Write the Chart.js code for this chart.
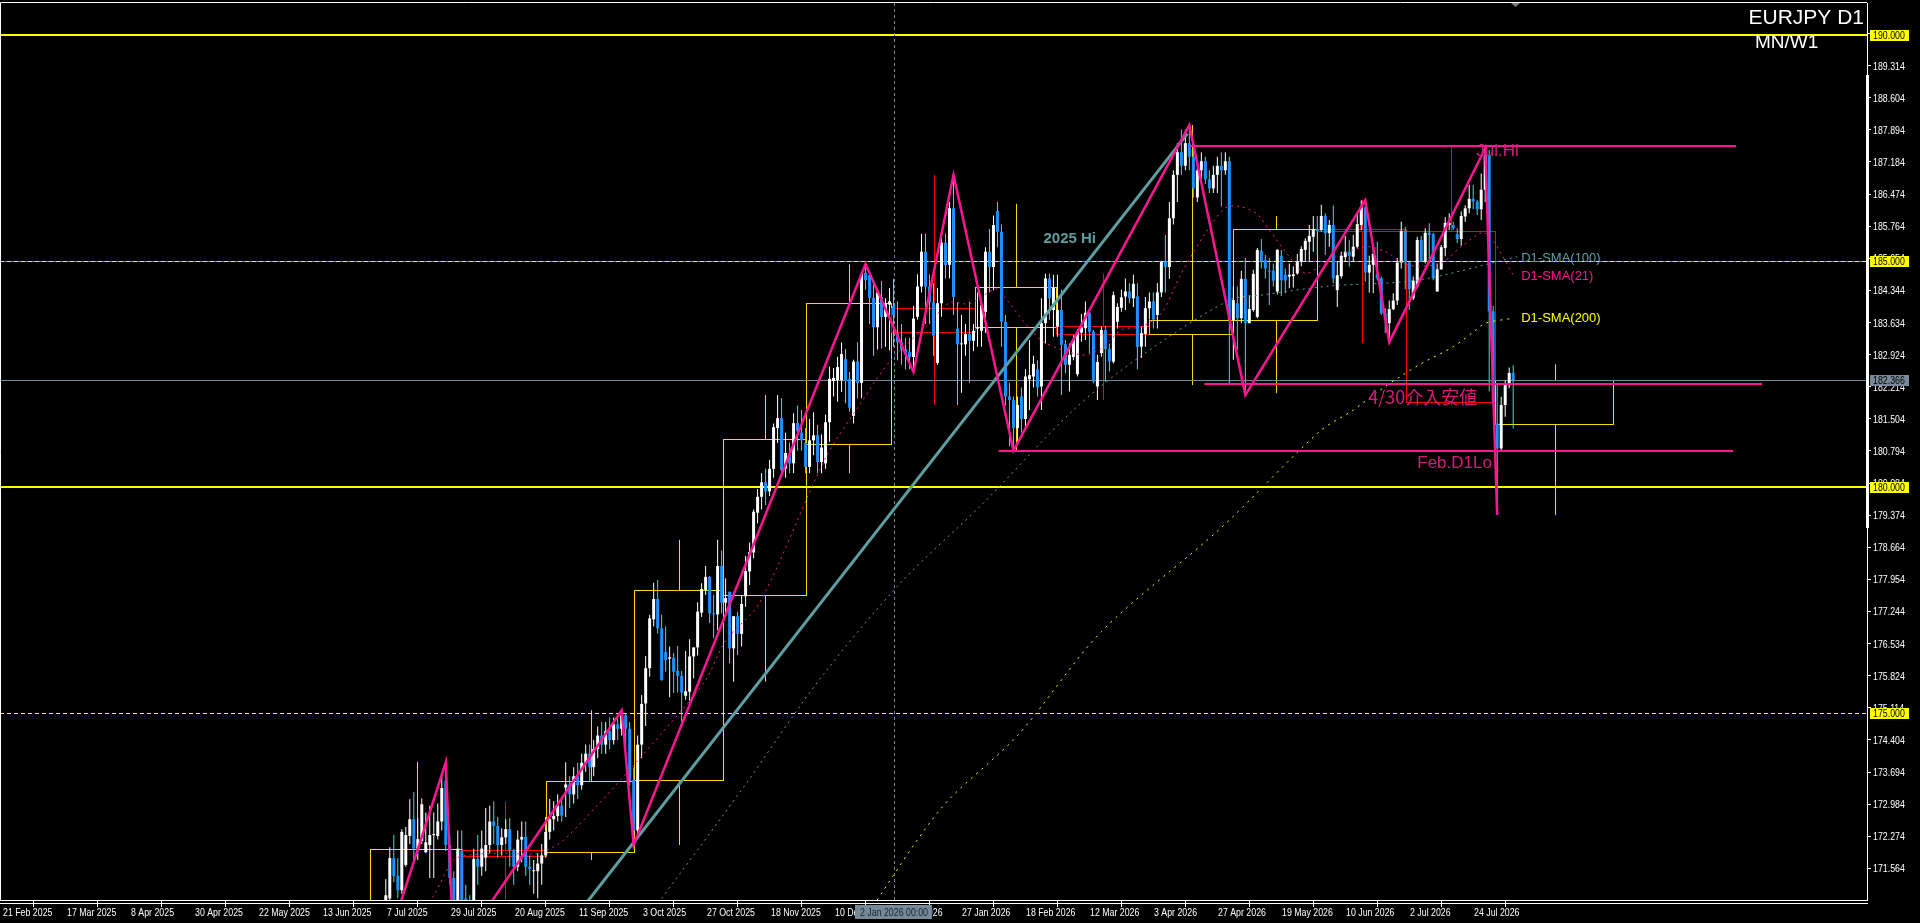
<!DOCTYPE html>
<html>
<head>
<meta charset="utf-8">
<script src="https://cdn.jsdelivr.net/npm/chart.js@4.4.0/dist/chart.umd.min.js"></script>
<style>
html, body { margin: 0; padding: 0; background: #000; overflow: hidden; }
</style>
</head>
<body>
<canvas id="chart" width="1920" height="923"></canvas>
<script>
// daily bars, index 0 = 21 Feb 2025, first candle drawn = bar 96 (7 Jul 2025)
const FIRST_BAR = 96;
const TOTAL_BARS = 467;

const opens = [
170.86,170.90,171.79,171.40,171.08,171.64,172.28,172.65,172.00,172.17,171.92,172.08,172.30,172.28,172.60,173.50,172.08,171.35,170.86,171.95,
170.90,170.80,170.86,171.77,171.60,171.80,172.08,172.60,172.50,172.08,172.25,172.43,171.97,171.60,172.20,172.26,171.60,171.50,171.50,171.67,
171.85,172.37,172.65,172.72,172.95,173.35,173.42,173.20,173.60,173.40,173.90,174.10,173.80,174.20,174.50,174.30,174.60,174.40,174.75,174.65,
174.95,174.65,173.52,172.40,174.30,175.21,175.99,177.07,177.52,176.87,176.35,176.20,176.22,175.93,175.82,175.38,175.47,176.25,176.45,177.22,
177.72,178.01,177.20,177.18,178.25,177.44,177.68,176.43,177.14,176.75,177.58,178.13,178.55,179.43,179.78,180.10,179.90,180.40,181.30,181.52,
180.40,180.72,180.52,181.41,181.20,180.97,180.44,181.03,181.14,180.55,180.52,181.43,182.34,182.36,182.36,182.83,182.39,181.57,182.77,182.30,
184.73,184.68,184.18,183.53,184.20,183.76,184.03,184.00,183.40,183.20,183.05,182.98,182.87,183.76,184.43,185.20,184.43,184.08,182.74,184.06,
185.40,184.91,186.16,183.50,183.15,183.15,183.38,183.23,183.50,183.45,183.87,185.20,184.86,186.10,185.64,183.65,182.00,181.92,181.30,182.00,
181.50,182.38,182.44,182.60,182.22,183.62,184.61,183.91,183.54,183.91,183.16,182.70,182.87,182.49,183.41,183.51,183.85,183.43,182.22,182.96,
183.47,183.05,182.77,183.65,183.96,184.21,184.32,184.17,184.21,183.10,183.38,183.95,184.10,183.80,184.30,184.98,184.86,185.94,186.90,187.40,
187.10,187.60,187.30,186.40,187.00,187.20,186.80,186.60,186.90,187.10,187.00,187.20,183.69,184.06,183.73,184.60,183.62,183.91,183.76,185.22,
185.02,184.78,184.78,184.32,185.11,184.69,184.65,184.66,184.72,184.98,185.24,185.42,185.53,185.70,185.68,185.99,185.61,185.79,184.35,184.66,
185.08,185.20,185.09,185.31,185.79,186.18,184.74,184.91,184.71,184.61,183.84,183.62,183.93,184.12,184.96,185.66,184.96,184.17,184.43,185.46,
184.98,185.62,185.59,184.32,184.81,185.28,185.79,185.79,185.59,185.48,185.98,186.16,186.37,186.31,186.14,186.57,187.34,183.88,181.40,180.85,
181.81,182.25,182.52
];
const highs = [
171.33,172.03,172.30,171.79,172.43,172.48,173.09,173.25,172.67,173.11,172.80,172.95,172.80,173.00,173.60,173.91,172.30,171.50,172.40,172.40,
171.20,170.97,172.00,172.30,172.40,172.90,172.95,173.04,172.70,172.45,172.65,172.67,172.00,172.40,172.60,172.60,171.85,171.75,171.90,172.10,
172.70,173.10,173.05,173.20,173.15,173.91,173.60,173.80,173.90,174.10,174.30,174.30,174.40,174.70,174.80,174.80,174.90,174.90,174.95,175.06,
175.00,174.80,173.80,174.50,175.40,176.26,177.17,177.88,177.94,177.17,176.92,176.47,176.33,176.48,175.93,176.37,176.63,176.45,177.45,177.87,
178.25,178.03,177.61,178.83,178.59,177.98,177.68,177.14,177.24,177.61,178.47,178.77,179.50,179.95,180.30,180.40,180.60,181.40,182.03,181.96,
181.20,180.98,181.63,181.80,181.70,181.30,181.50,181.65,181.37,181.16,181.60,182.66,182.63,182.88,183.20,183.05,182.54,182.81,183.20,184.75,
184.93,184.73,184.55,184.35,184.55,184.17,184.40,184.60,184.10,183.60,183.30,183.30,184.00,184.70,185.60,185.60,184.70,184.50,184.40,185.60,
185.60,186.30,186.90,184.09,183.80,183.60,184.10,183.60,184.30,184.05,185.30,185.70,186.00,186.30,185.80,183.80,182.30,182.00,182.00,182.20,
182.60,183.25,182.90,182.80,184.17,184.72,184.71,184.69,184.69,184.36,183.25,183.17,183.35,183.49,183.82,184.10,183.87,183.47,182.92,183.55,
183.55,183.17,184.32,184.06,184.36,184.61,184.50,184.69,184.50,183.54,184.20,184.30,184.30,184.50,185.00,185.57,186.30,187.00,187.60,187.90,
187.90,188.00,187.50,187.20,187.40,187.30,187.00,187.10,187.30,187.40,187.40,187.30,184.43,184.43,184.78,185.06,184.24,184.80,185.28,185.48,
185.13,185.06,184.94,185.26,185.24,184.83,184.94,184.88,185.15,185.32,185.50,185.79,185.99,185.99,186.24,186.05,185.90,186.23,184.98,185.20,
185.55,185.46,185.57,186.05,186.34,186.34,185.11,185.35,185.42,184.65,183.95,184.12,184.28,185.06,185.86,185.75,184.98,184.65,185.53,185.55,
185.72,185.83,185.62,184.94,185.35,185.96,186.05,185.86,185.72,186.09,186.23,186.68,186.68,186.34,186.93,187.49,187.45,184.00,182.25,181.99,
182.36,182.64,182.69
];
const lows = [
170.80,170.06,171.26,170.90,171.00,171.60,172.10,171.75,171.75,172.10,171.90,171.35,171.35,172.20,172.40,171.95,171.20,169.60,170.60,170.60,
170.60,170.50,170.70,171.20,171.40,171.50,171.90,172.10,171.80,171.85,172.10,171.60,171.20,171.50,171.70,171.40,171.20,171.00,170.90,171.20,
171.80,172.20,172.40,172.60,172.60,172.70,172.90,173.00,173.10,173.30,173.70,173.50,173.60,174.00,174.10,174.10,174.20,174.30,174.40,174.50,
174.30,173.40,172.08,172.30,174.00,174.71,175.80,176.91,176.76,175.71,175.91,175.35,175.44,175.45,174.81,175.29,175.27,175.77,176.27,177.12,
177.61,176.99,176.65,176.83,177.20,177.20,176.10,175.69,176.28,176.47,177.35,177.83,178.42,179.19,179.50,179.60,179.80,180.20,180.97,180.20,
180.20,180.30,180.30,180.80,180.80,180.30,180.30,180.70,180.30,180.30,180.40,181.00,182.00,181.88,182.10,181.85,181.66,181.40,181.96,181.96,
184.36,183.60,182.90,183.04,183.06,183.10,183.02,183.10,182.80,182.70,182.60,182.60,182.54,183.70,184.30,183.60,183.60,182.90,182.70,183.76,
184.61,184.61,183.80,181.81,182.08,182.90,182.30,183.00,183.10,183.10,183.40,184.30,184.35,185.30,183.10,181.80,180.90,180.80,181.00,181.20,
181.30,181.70,182.20,182.00,181.70,183.17,183.69,183.32,183.32,182.03,182.51,182.11,182.80,182.44,183.21,183.25,182.96,182.29,181.92,182.88,
182.33,182.55,182.73,183.50,183.87,183.91,184.06,183.98,182.60,182.85,183.10,183.70,183.50,183.50,184.20,184.30,184.60,185.80,186.30,186.90,
187.00,187.00,186.40,186.30,186.80,186.70,186.50,186.50,186.50,186.20,186.90,182.25,182.81,183.03,183.62,182.03,183.62,183.87,183.73,184.83,
184.61,184.02,184.43,184.26,184.22,184.28,184.39,184.41,184.69,184.88,184.98,184.98,185.20,185.13,185.64,185.13,185.31,184.50,183.98,184.61,
184.98,184.87,184.98,185.28,185.68,184.54,184.30,184.28,184.57,183.80,183.40,183.20,183.91,184.02,184.83,184.37,183.91,184.13,184.39,184.98,
184.94,185.02,184.57,184.32,184.80,185.10,185.68,185.68,185.39,185.33,185.86,186.05,186.14,186.01,185.90,186.30,182.11,181.80,179.38,180.78,
181.55,182.18,181.29
];
const closes = [
170.97,171.79,171.39,171.08,172.37,172.30,172.65,172.00,172.21,172.98,172.14,172.30,172.31,172.60,173.34,172.08,171.35,170.86,172.00,170.86,
170.80,170.70,171.77,171.60,172.00,172.08,172.60,172.50,172.08,172.25,172.43,171.97,171.60,172.20,172.26,171.60,171.55,171.52,171.67,171.85,
172.37,172.65,172.72,172.95,172.73,173.42,173.20,173.60,173.40,173.90,174.10,173.80,174.20,174.50,174.30,174.60,174.40,174.75,174.65,174.95,
174.65,173.50,172.40,174.30,175.20,175.99,177.09,177.52,176.87,175.73,176.17,176.23,175.91,175.82,175.45,175.48,176.25,176.45,177.24,177.74,
178.01,177.20,177.18,178.25,177.44,177.54,176.43,177.14,176.75,177.41,178.14,178.56,179.45,179.78,180.10,179.90,180.40,181.32,181.52,180.37,
180.75,180.52,181.41,181.23,181.03,180.44,181.03,181.14,180.55,180.87,181.43,182.39,182.41,182.65,182.94,182.34,181.75,182.77,182.30,184.71,
184.57,184.18,183.53,184.30,183.76,184.05,184.10,183.80,183.20,183.05,182.95,182.87,183.72,184.43,185.20,184.43,184.08,183.34,184.06,185.40,
184.90,186.16,184.20,183.15,183.17,183.38,183.23,183.45,183.50,184.02,185.20,184.86,185.79,185.64,183.65,182.00,181.92,181.30,181.81,181.50,
182.44,182.47,182.72,182.20,183.62,184.61,184.17,184.40,183.91,183.14,182.70,182.92,183.26,183.43,183.53,183.85,183.43,182.33,182.76,183.47,
183.05,182.77,184.24,183.98,184.19,184.32,184.17,184.49,183.09,183.40,183.95,184.10,183.70,184.30,184.98,184.86,185.94,186.90,187.40,187.10,
187.60,187.30,186.60,187.00,187.20,186.80,186.60,186.90,187.10,187.00,187.20,183.69,184.13,183.73,184.60,183.62,183.93,184.71,185.24,184.98,
184.83,184.76,184.56,185.24,184.57,184.56,184.69,184.70,184.98,185.26,185.44,185.55,185.70,185.66,185.99,185.61,185.79,184.61,184.68,185.11,
185.20,185.11,185.31,185.81,186.18,184.74,184.91,185.15,184.61,183.84,183.69,183.93,184.12,184.96,185.66,184.96,184.37,184.56,185.46,184.98,
185.62,185.57,184.61,184.81,185.30,185.84,185.84,185.72,185.48,185.99,186.16,186.37,186.31,186.14,186.57,187.34,183.88,181.88,180.85,181.81,
182.25,182.52,182.36
];

// x axis labels, one every 16 bars from bar 0
const dateTicks = ['21 Feb 2025','17 Mar 2025','8 Apr 2025','30 Apr 2025','22 May 2025','13 Jun 2025',
  '7 Jul 2025','29 Jul 2025','20 Aug 2025','11 Sep 2025','3 Oct 2025','27 Oct 2025','18 Nov 2025',
  '10 Dec 2025','5 Jan 2026','27 Jan 2026','18 Feb 2026','12 Mar 2026','3 Apr 2026','27 Apr 2026',
  '19 May 2026','10 Jun 2026','2 Jul 2026','24 Jul 2026'];
const priceTicks = [171.564,172.274,172.984,173.694,174.404,175.114,175.824,176.534,177.244,177.954,
  178.664,179.374,180.084,180.794,181.504,182.214,182.924,183.634,184.344,185.054,185.764,186.474,
  187.184,187.894,188.604,189.314,190.024];

// monthly (MN) candles drawn as boxes
const monthEdges = [92,115,136,158,180.3,201,222.4,243.5,263.7,286.8,308,329,351.2,373.4,403];
const monthOpen  = [170.00,171.97,171.93,173.52,177.60,180.94,183.95,183.53,183.56,183.38,183.69,185.70,185.66,181.40];
const monthClose = [172.00,171.83,173.50,177.72,181.06,184.06,183.42,184.42,183.38,183.69,185.70,185.66,181.88,182.366];
const monthHigh  = [173.92,173.04,175.06,178.83,182.03,184.92,186.90,186.26,184.71,188.00,185.99,186.34,187.52,182.71];
const monthLow   = [169.50,170.30,171.75,172.08,175.69,180.30,181.81,180.80,181.92,182.25,182.07,183.18,181.80,179.38];

// zigzag
const zigBars   = [97,111,113,155,158,216,228,238,253,297,311,341,347,371,374];
const zigPrices = [170.06,173.91,169.60,175.06,172.08,184.93,182.54,186.90,180.80,188.00,182.03,186.34,183.20,187.49,179.38];

// moving averages
const sma21Bars = [104,108,113,117,125,134,141,166.5,176,181,189.5,206,214.5,222.4,232,237,242,248.7,251,257,261,270,274.5,280,285,290,295,301,306,309.5,313.7,317,322,326,329.5,332,341,346,352,360,365,371,378];
const sma21Vals = [170.50,170.97,171.75,171.86,171.90,171.90,172.23,174.70,175.73,176.60,177.44,180.64,181.81,182.81,183.62,184.07,184.05,184.38,184.17,183.50,183.18,182.92,183.03,183.47,183.54,183.84,184.72,185.61,186.17,186.20,186.05,185.68,185.09,184.72,184.87,185.02,185.31,185.20,184.90,184.95,185.31,185.61,184.69];
const sma100Bars = [165,185,205,225,245,268,284.5,307,315,332,354,379];
const sma100Vals = [170.90,173.30,175.80,177.90,179.60,181.70,182.87,184.13,184.24,184.44,184.57,185.09];
const sma200Bars = [215,235,254,275,305,329.5,338,346,354.5,363,368.7,371,378];
const sma200Vals = [170.35,172.90,174.50,176.80,179.10,181.22,181.70,182.22,182.70,183.10,183.47,183.62,183.73];

// trend line
const trendBars = [140,296.5];
const trendPrices = [170.10,187.81];

// horizontal levels
const levelSolid = [190.0, 180.0];
const levelDashed = [185.0, 175.0];
const currentPrice = 182.366;
const markStart = [297, 300.75, 249.3];
const markEnd   = [433.75, 440.25, 433];
const markPrice = [187.53, 182.28, 180.80];
const markText  = ['Jul.Hi', '4/30介入安値', 'Feb.D1Lo'];
const markTextBar = [368.75, 341.75, 354];
const markTextPrice = [187.43, 181.99, 180.53];
const smaText = ['D1-SMA(100)', 'D1-SMA(21)', 'D1-SMA(200)'];
const smaTextPrice = [185.06, 184.65, 183.72];

const Y_MIN = 170.864, Y_MAX = 190.70;
const AXIS_FONT = "11px 'Liberation Sans', sans-serif";
const SQUEEZE = 0.8;   // axis text is narrower than any installed font

const isBull = k => closes[k] >= opens[k];
const wickData = opens.map((_, k) => ({ x: FIRST_BAR + k, y: [lows[k], highs[k]] }));
const bodyData = opens.map((_, k) => ({ x: FIRST_BAR + k, y: [opens[k], closes[k]] }));
const pts = (bs, vs) => bs.map((b, i) => ({ x: b, y: vs[i] }));

const narrowText = (ctx, txt, x, y) => {
  ctx.save();
  ctx.translate(x, y);
  ctx.scale(SQUEEZE, 1);
  ctx.fillText(txt, 0, 0);
  ctx.restore();
};

const overlay = {
  id: 'overlay',
  beforeDatasetsDraw(chart) {
    const { ctx, chartArea: a, scales: { x, y } } = chart;
    const px = v => x.getPixelForValue(v), py = v => y.getPixelForValue(v);
    ctx.save();
    ctx.beginPath();
    ctx.rect(a.left, a.top, a.right - a.left, a.bottom - a.top);
    ctx.clip();

    // monthly boxes
    ctx.lineWidth = 1;
    for (let m = 0; m < monthOpen.length; m++) {
      ctx.strokeStyle = monthClose[m] >= monthOpen[m] ? '#FFD700' : '#FF0000';
      const x0 = Math.round(px(monthEdges[m])) + 0.5, x1 = Math.round(px(monthEdges[m + 1])) + 0.5;
      const t = Math.round(py(Math.max(monthOpen[m], monthClose[m]))) + 0.5;
      const b = Math.round(py(Math.min(monthOpen[m], monthClose[m]))) + 0.5;
      ctx.strokeRect(x0, t, x1 - x0, Math.max(b - t, 1));
      const xm = Math.round((x0 + x1) / 2) + 0.5;
      ctx.beginPath();
      ctx.moveTo(xm, py(monthHigh[m])); ctx.lineTo(xm, t);
      ctx.moveTo(xm, b); ctx.lineTo(xm, py(monthLow[m]));
      ctx.stroke();
    }

    // level lines
    ctx.strokeStyle = '#FFFF00';
    ctx.lineWidth = 2;
    levelSolid.forEach(p => {
      const yy = Math.round(py(p));
      ctx.beginPath(); ctx.moveTo(a.left, yy); ctx.lineTo(a.right, yy); ctx.stroke();
    });
    ctx.lineWidth = 1;
    levelDashed.forEach((p, i) => {
      const yy = Math.round(py(p)) + 0.5;
      if (i === 0) {
        ctx.strokeStyle = '#5F8F96';
        ctx.setLineDash([]);
        ctx.beginPath(); ctx.moveTo(a.left, yy); ctx.lineTo(a.right, yy); ctx.stroke();
      }
      ctx.strokeStyle = '#FFFF00';
      ctx.setLineDash([4, 3]);
      ctx.beginPath(); ctx.moveTo(a.left, yy); ctx.lineTo(a.right, yy); ctx.stroke();
    });
    ctx.setLineDash([]);
    ctx.strokeStyle = '#778899';
    const yc = Math.round(py(currentPrice)) + 0.5;
    ctx.beginPath(); ctx.moveTo(a.left, yc); ctx.lineTo(a.right, yc); ctx.stroke();

    // vertical crosshair at bar 223
    ctx.setLineDash([3, 3]);
    const xv = Math.round(px(223)) + 0.5;
    ctx.beginPath(); ctx.moveTo(xv, a.top); ctx.lineTo(xv, a.bottom); ctx.stroke();
    ctx.setLineDash([]);
    ctx.restore();
  },
  afterDatasetsDraw(chart) {
    const { ctx, chartArea: a, scales: { x, y } } = chart;
    const px = v => x.getPixelForValue(v), py = v => y.getPixelForValue(v);
    ctx.save();
    ctx.beginPath();
    ctx.rect(a.left, a.top, a.right - a.left, a.bottom - a.top);
    ctx.clip();
    ctx.strokeStyle = '#FF1493';
    ctx.lineWidth = 2;
    markPrice.forEach((p, i) => {
      const yy = Math.round(py(p));
      ctx.beginPath(); ctx.moveTo(px(markStart[i]), yy); ctx.lineTo(px(markEnd[i]), yy); ctx.stroke();
    });
    ctx.textBaseline = 'middle';
    ctx.fillStyle = '#D81B7A';
    markText.forEach((t, i) => {
      ctx.font = i === 1 ? "18px 'Noto Sans CJK JP', sans-serif" : "17px 'Liberation Sans', sans-serif";
      ctx.fillText(t, px(markTextBar[i]), py(markTextPrice[i]));
    });
    ctx.font = "13px 'Liberation Sans', sans-serif";
    const smaCols = ['#5F9EA0', '#FF1493', '#FFFF00'];
    smaText.forEach((t, i) => {
      ctx.fillStyle = smaCols[i];
      ctx.fillText(t, px(380), py(smaTextPrice[i]));
    });
    ctx.font = "bold 15px 'Liberation Sans', sans-serif";
    ctx.fillStyle = '#5F9EA0';
    ctx.fillText('2025 Hi', px(260.5), py(185.48));
    ctx.restore();
  },
  afterDraw(chart) {
    const { ctx, chartArea: a, scales: { x, y } } = chart;
    const py = v => y.getPixelForValue(v);
    ctx.save();
    // frame
    ctx.strokeStyle = '#FFFFFF';
    ctx.lineWidth = 1;
    ctx.beginPath();
    ctx.moveTo(0.5, a.bottom); ctx.lineTo(0.5, a.top - 0.5); ctx.lineTo(a.right, a.top - 0.5);
    ctx.moveTo(0, a.bottom + 3.5); ctx.lineTo(a.right + 1, a.bottom + 3.5);
    ctx.stroke();
    ctx.fillStyle = '#FFFFFF';
    ctx.fillRect(a.right - 1, 75, 3, 453);
    // shift marker
    ctx.fillStyle = '#808080';
    ctx.beginPath(); ctx.moveTo(1511, 3); ctx.lineTo(1520, 3); ctx.lineTo(1515.5, 7); ctx.fill();

    // axis labels at the scales' tick positions
    ctx.font = AXIS_FONT;
    ctx.fillStyle = '#FFFFFF';
    ctx.textBaseline = 'middle';
    ctx.textAlign = 'left';
    x.ticks.forEach(t => narrowText(ctx, dateTicks[Math.round(t.value / 16)], Math.round(x.getPixelForValue(t.value)) + 1, 912.5));
    y.ticks.forEach(t => narrowText(ctx, t.value.toFixed(3), a.right + 6, Math.round(py(t.value)) + 0.5));

    // price tags on the axis
    const tag = (p, bg, txt) => {
      const yy = Math.round(py(p));
      ctx.fillStyle = bg;
      ctx.fillRect(a.right + 3, yy - 5, 39, 11);
      ctx.fillStyle = '#000000';
      narrowText(ctx, txt, a.right + 6, yy + 0.5);
    };
    [190, 185, 180, 175].forEach(p => tag(p, '#FFFF00', p.toFixed(3)));
    tag(currentPrice, '#778899', currentPrice.toFixed(3));

    // crosshair time tag
    ctx.fillStyle = '#778899';
    ctx.fillRect(855, 905, 77, 14);
    ctx.fillStyle = '#1a2230';
    narrowText(ctx, '2 Jan 2026 00:00', 860, 912.5);

    // title
    ctx.fillStyle = '#FFFFFF';
    ctx.textAlign = 'right';
    ctx.font = "21px 'Liberation Sans', sans-serif";
    ctx.fillText('EURJPY D1', 1864, 18);
    ctx.textAlign = 'left';
    ctx.font = "19px 'Liberation Sans', sans-serif";
    ctx.fillText('MN/W1', 1755, 43);
    ctx.restore();
  }
};

Chart.defaults.font.family = "'Liberation Sans', sans-serif";
Chart.defaults.font.size = 11;

new Chart(document.getElementById('chart'), {
  type: 'bar',
  data: {
    datasets: [
      { type: 'line', data: pts(zigBars, zigPrices), borderColor: '#FF1493', borderWidth: 2.5, pointRadius: 0, tension: 0, order: 0 },
      { type: 'line', data: pts(trendBars, trendPrices), borderColor: '#5F9EA0', borderWidth: 3, pointRadius: 0, tension: 0, order: 0 },
      { type: 'line', data: pts(sma21Bars, sma21Vals), borderColor: '#FF1493', borderWidth: 1, borderDash: [2, 4], pointRadius: 0, tension: 0.3, order: 1 },
      { type: 'line', data: pts(sma100Bars, sma100Vals), borderColor: '#5F9EA0', borderWidth: 1, borderDash: [2, 4], pointRadius: 0, tension: 0.3, order: 1 },
      { type: 'line', data: pts(sma200Bars, sma200Vals), borderColor: '#FFFF00', borderWidth: 1, borderDash: [2, 5], pointRadius: 0, tension: 0.3, order: 1 },
      { type: 'bar', data: wickData, barThickness: 1, grouped: false, inflateAmount: 0, order: 3,
        backgroundColor: c => (c.dataIndex === undefined || isBull(c.dataIndex)) ? '#FFFFFF' : '#40E0D0' },
      { type: 'bar', data: bodyData, barThickness: 3, grouped: false, inflateAmount: 0, minBarLength: 1, order: 2,
        backgroundColor: c => (c.dataIndex === undefined || isBull(c.dataIndex)) ? '#FFFFFF' : '#1E90FF' }
    ]
  },
  options: {
    responsive: false,
    animation: false,
    devicePixelRatio: 1,
    events: [],
    layout: { padding: { top: 3, left: 0, right: 0, bottom: 0 } },
    plugins: { legend: { display: false }, tooltip: { enabled: false } },
    scales: {
      x: {
        type: 'linear', min: -0.5, max: TOTAL_BARS - 0.5, offset: false,
        afterBuildTicks: s => { s.ticks = dateTicks.map((_, k) => ({ value: k * 16 })); },
        afterFit: s => { s.height = 23; s.paddingLeft = 0; s.paddingRight = 0; },
        ticks: { autoSkip: false, maxRotation: 0, align: 'start', color: 'rgba(0,0,0,0)',
          callback: v => dateTicks[Math.round(v / 16)] },
        grid: { drawOnChartArea: false, drawTicks: true, tickLength: 7, color: '#FFFFFF' },
        border: { color: '#FFFFFF' }
      },
      y: {
        type: 'linear', position: 'right', min: Y_MIN, max: Y_MAX,
        afterBuildTicks: s => { s.ticks = priceTicks.map(v => ({ value: v })); },
        afterFit: s => { s.width = 53; s.paddingTop = 0; s.paddingBottom = 0; },
        ticks: { color: 'rgba(0,0,0,0)', callback: v => v.toFixed(3) },
        grid: { drawOnChartArea: false, drawTicks: true, tickLength: 4, color: '#FFFFFF' },
        border: { color: '#FFFFFF' }
      }
    }
  },
  plugins: [overlay]
});
</script>
</body>
</html>
